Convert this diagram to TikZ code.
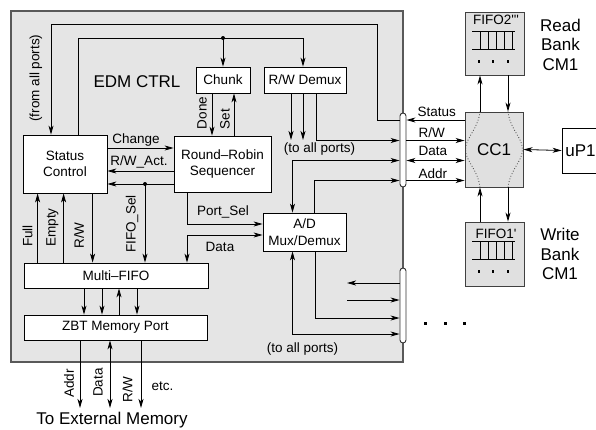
\documentclass[tikz,border=0pt]{standalone}
\usepackage{fontspec}
\setmainfont{Liberation Sans}
\usetikzlibrary{arrows.meta}

\tikzset{
  blk/.style={draw, fill=white, line width=0.8pt, inner sep=0pt, align=center},
  gblk/.style={draw=black!75, fill=black!12, line width=0.9pt, inner sep=0pt},
  busbar/.style={draw=black!80, fill=white, line width=0.9pt, rounded corners=3pt, minimum width=6pt, inner sep=0pt},
  arr/.style={line width=0.8pt, -{Stealth[length=9pt,width=5pt,inset=2.5pt]}},
  dbl/.style={line width=0.8pt, {Stealth[length=9pt,width=5pt,inset=2.5pt]}-{Stealth[length=9pt,width=5pt,inset=2.5pt]}},
  big/.style={font=\fontsize{17}{19.5}\selectfont},
}

\begin{document}
\begin{tikzpicture}[x=1pt, y=-1pt, font=\fontsize{13.5}{16.5}\selectfont]
    \useasboundingbox (0,0) rectangle (596,429);

    % EDM module
    \filldraw[fill=black!10, draw=black!65, line width=1.2pt] (11,11) rectangle (403,362);

    % Blocks
    \node[blk, minimum width=84pt, minimum height=58pt] (sc) at (65,164) {Status\\Control};
    \node[blk, minimum width=97pt, minimum height=56pt] (rr) at (222.5,164) {Round–Robin\\Sequencer};
    \node[blk, minimum width=54pt, minimum height=26pt] (chunk) at (223,80) {Chunk};
    \node[blk, minimum width=82pt, minimum height=26pt] (rwd) at (305,80) {R/W Demux};
    \node[blk, minimum width=83pt, minimum height=38pt] (ad) at (304.5,232) {A/D\\Mux/Demux};
    \node[blk, minimum width=184pt, minimum height=25pt] (mf) at (116,275.5) {Multi–FIFO};
    \node[blk, minimum width=183pt, minimum height=25pt] (zbt) at (115.5,327.5) {ZBT Memory Port};

    % Port bars
    \node[busbar, minimum height=74pt] (bar1) at (403,150) {};
    \node[busbar, minimum height=75pt] (bar2) at (403,305.5) {};

    % CC1, uP1 and banks
    \node[gblk, big, minimum width=58pt, minimum height=75pt] (cc1) at (494,149.5) {CC1};
    \node[blk, big, minimum width=37pt, minimum height=45pt] (up1) at (580.5,150.5) {uP1};
    \node[gblk, minimum width=59pt, minimum height=63pt] (fifo2) at (494.5,43.5) {};
    \node[gblk, minimum width=59pt, minimum height=64pt] (fifo1) at (494.5,254) {};
    \node[anchor=base] (lfifo2) at (496,24.3) {FIFO2\textquotesingle\textquotesingle\textquotesingle};
    \node[anchor=base] (lfifo1) at (496,238.3) {FIFO1\textquotesingle};
    \foreach \f in {fifo1,fifo2} {
        \draw[line width=0.8pt] ([shift={(-22.5,19.7)}]\f.north) -- ++(43,0)
            ([shift={(-22.5,38)}]\f.north) -- ++(43,0);
        \foreach \vx in {-14.5,-6.5,1.5,9.5,17.5}
            \draw[line width=0.8pt] ([shift={(\vx,19.7)}]\f.north) -- ++(0,18.3);
        \foreach \vx in {-15.5,-1.5,13.5}
            \fill ([shift={(\vx,50.2)}]\f.north) +(-1.4,-1.4) rectangle +(1.4,1.4);
    }
    \node[big, align=center] (lread) at (560.5,44.5) {Read\\Bank\\CM1};
    \node[big, align=center] (lwrite) at (560,254) {Write\\Bank\\CM1};

    % CC1 paths
    \draw[dotted, black!75, line width=0.8pt] ([xshift=-14]cc1.north) .. controls +(-2,18) and +(0,-12) .. ([xshift=1]cc1.west)
        .. controls +(0,12) and +(-2,-18) .. ([xshift=-14]cc1.south);
    \draw[dotted, black!75, line width=0.8pt] ([xshift=14]cc1.north) .. controls +(2,18) and +(0,-12) .. ([xshift=-1]cc1.east)
        .. controls +(0,12) and +(2,-18) .. ([xshift=14]cc1.south);

    % CC1 links
    \draw[arr] ([xshift=-14]cc1.north) -- ([xshift=-14]cc1.north |- fifo2.south);
    \draw[arr] ([xshift=14]cc1.north |- fifo2.south) -- ([xshift=14]cc1.north);
    \draw[arr] ([xshift=-14]cc1.south |- fifo1.north) -- ([xshift=-14]cc1.south);
    \draw[arr] ([xshift=14]cc1.south) -- ([xshift=14]cc1.south |- fifo1.north);
    \draw[dbl] (cc1.east) -- (up1.west);

    % Port bus to CC1
    \draw[arr] ([yshift=30]bar1.east -| cc1.west) -- ([yshift=30]bar1.east);
    \draw[arr] ([yshift=9.5]bar1.east) -- ([yshift=9.5]bar1.east -| cc1.west);
    \draw[dbl] ([yshift=-10.5]bar1.east) -- ([yshift=-10.5]bar1.east -| cc1.west);
    \draw[arr] ([yshift=-30.5]bar1.east) -- ([yshift=-30.5]bar1.east -| cc1.west);
    \node[anchor=base west] (lstatus) at (414,116) {Status};
    \node[anchor=base west] (lrw) at (415,137) {R/W};
    \node[anchor=base west] (ldata) at (415,155) {Data};
    \node[anchor=base west] (laddr) at (415,178) {Addr};

    % Status loop and control
    \coordinate (fromall) at (377,24);
    \coordinate (split) at (223,38);
    \draw[arr] ([yshift=30]bar1.west) -| (fromall) -| ([xshift=-14]sc.north);
    \draw ([xshift=13]sc.north) |- (split);
    \draw[arr] (split) -- (chunk.north);
    \draw[arr] (split) -| ([xshift=-2]rwd.north);
    \fill (split) circle (2);

    % Chunk
    \draw[arr] ([xshift=-11]chunk.south) -- ([xshift=-11]chunk.south |- rr.north);
    \draw[arr] ([xshift=11]chunk.south |- rr.north) -- ([xshift=11]chunk.south);

    % R/W Demux outputs
    \coordinate (toall) at (305,140);
    \draw[arr] ([xshift=-14]rwd.south) -- ([xshift=-14]toall);
    \draw[arr] ([xshift=-2]rwd.south) -- ([xshift=-2]toall);
    \draw[arr] ([xshift=11]rwd.south) |- ([yshift=9.5]bar1.west);

    % A/D
    \draw[dbl] ([yshift=-10.5]bar1.west) -| ([xshift=-12]ad.north);
    \draw[arr] ([xshift=10]ad.north) |- ([yshift=-30.5]bar1.west);
    \draw[arr] ([xshift=11]ad.south) |- ([yshift=-12.5]bar2.west);
    \draw[dbl] ([yshift=-28.5]bar2.west) -| ([xshift=-12]ad.south);
    \coordinate (portS) at (347,283);
    \coordinate (portR) at (347,300);
    \draw[arr] (bar2.west |- portS) -- (portS);
    \draw[arr] (portR) -- (bar2.west |- portR);
    \foreach \x in {425,445,464}
        \fill (\x,323) +(-1.5,-1.5) rectangle +(1.5,1.5);

    % Status control <-> sequencer
    \coordinate (fsel) at (145,184);
    \draw[arr] ([yshift=16]sc.east) -- ([yshift=16]rr.west);
    \draw[arr] ([yshift=-7]rr.west) -- ([yshift=-7]sc.east);
    \draw[arr] ([yshift=-20]rr.west) -- ([yshift=-20]sc.east);
    \fill (fsel) circle (2);
    \draw[arr] (fsel) -- (fsel |- mf.north);

    % Port select and data
    \draw[arr] ([xshift=-35]rr.south) |- ([yshift=8]ad.west);
    \draw[dbl] ([yshift=-3]ad.west) -| ([xshift=71]mf.north);

    % Multi-FIFO flags
    \draw[arr] ([xshift=14]mf.north west) -- ([xshift=14]mf.north west |- sc.south);
    \draw[arr] ([xshift=40]mf.north west) -- ([xshift=40]mf.north west |- sc.south);
    \draw[arr] ([xshift=69]mf.north west |- sc.south) -- ([xshift=69]mf.north west);

    % Multi-FIFO to ZBT
    \foreach \dx in {-32,-14,21}
        \draw[arr] ([xshift=\dx]mf.south) -- ([xshift=\dx]mf.south |- zbt.north);
    \draw[arr] ([xshift=3]mf.south |- zbt.north) -- ([xshift=3]mf.south);

    % External memory
    \coordinate (extmem) at (115.5,408);
    \draw[arr] ([xshift=-35.5]zbt.south) -- ([xshift=-35.5]extmem);
    \draw[dbl] ([xshift=-5.5]zbt.south) -- ([xshift=-5.5]extmem);
    \draw[arr] ([xshift=25.5]zbt.south) -- ([xshift=25.5]extmem);

    % Labels
    \node[big, anchor=base] (ledm) at (137,87) {EDM CTRL};
    \node[rotate=90] (lfrom) at (36,78) {(from all ports)};
    \node[rotate=90] (ldone) at (202,113) {Done};
    \node[rotate=90] (lset) at (225,119) {Set};
    \node[anchor=base] (lchange) at (136,143.5) {Change};
    \node[anchor=base] (lrwact) at (139,165.5) {R/W\_Act.};
    \node[anchor=base] (lport) at (223,215) {Port\_Sel};
    \node[anchor=base] (ldatamf) at (220,251) {Data};
    \node (ltoall) at (319.5,149) {(to all ports)};
    \node (ltoallb) at (302.5,349) {(to all ports)};
    \node[rotate=90] (lfull) at (27.5,236) {Full};
    \node[rotate=90] (lempty) at (52.5,227.5) {Empty};
    \node[rotate=90] (lrwmf) at (79,235.5) {R/W};
    \node[rotate=90] (lfsel) at (132,224) {FIFO\_Sel};
    \node[rotate=90] (lmaddr) at (69,383.5) {Addr};
    \node[rotate=90] (lmdata) at (98,382.5) {Data};
    \node[rotate=90] (lmrw) at (127.5,389.5) {R/W};
    \node[anchor=base] (letc) at (162.5,390) {etc.};
    \node[big, anchor=base] (lext) at (112,424) {To External Memory};
\end{tikzpicture}
\end{document}
